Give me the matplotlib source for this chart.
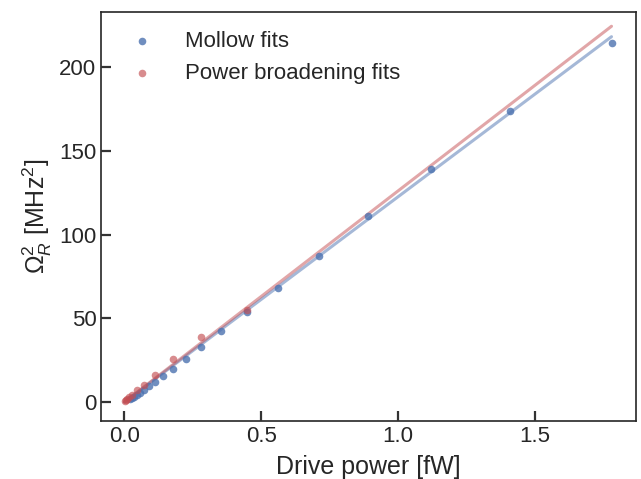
import numpy as np
import matplotlib.pyplot as plt
import seaborn as sns

sns.set_style('ticks')
plt.rcParams['font.family'] = ['Liberation Sans', 'DejaVu Sans']
plt.rcParams['mathtext.fontset'] = 'custom'
plt.rcParams['mathtext.rm'] = 'Liberation Sans'
plt.rcParams['mathtext.it'] = 'Liberation Sans:italic'

# Mollow fits
mollow_power = [1.78, 1.41, 1.12, 0.89, 0.71, 0.56, 0.45, 0.355, 0.28, 0.224,
                0.178, 0.141, 0.112, 0.089, 0.071, 0.056, 0.045, 0.035, 0.028, 0.022]
mollow_rabi2 = [214, 173.5, 139, 111, 87, 68, 54, 42.5, 33, 26,
                20, 15.5, 12, 9.5, 7.5, 5.5, 4.2, 3.2, 2.5, 1.8]

# Power broadening fits
pb_power = [0.45, 0.28, 0.178, 0.112, 0.071, 0.045, 0.028, 0.018, 0.011, 0.007, 0.004]
pb_rabi2 = [55, 39, 25.5, 16, 10, 7, 4.5, 3, 1.8, 1.0, 0.5]

# linear fit slopes [MHz^2 / fW]
mollow_slope = 122.5
pb_slope = 126.0

blue = '#4C72B0'
red = '#C44E52'

fig, ax = plt.subplots(figsize=(6.41, 4.79), dpi=100)
ax.set_axisbelow(False)

xfit = np.array([0, max(mollow_power)])
ax.plot(xfit, mollow_slope * xfit, color=blue, alpha=0.5, lw=2.2)
ax.plot(xfit, pb_slope * xfit, color=red, alpha=0.5, lw=2.2)

ax.scatter(mollow_power, mollow_rabi2, color=blue, s=30, alpha=0.8, lw=0, label='Mollow fits', zorder=3)
ax.scatter(pb_power, pb_rabi2, color=red, s=30, alpha=0.65, lw=0, label='Power broadening fits', zorder=3)

ax.set_xlim(-0.084, 1.869)
ax.set_ylim(-11.3, 232.8)
ax.set_xticks([0.0, 0.5, 1.0, 1.5])
ax.set_yticks([0, 50, 100, 150, 200])
ax.tick_params(direction='in', length=7, width=1.6, color='#333333',
               labelsize=16, labelcolor='#262626')
for s in ax.spines.values():
    s.set_color('#262626')
    s.set_linewidth(1.2)
ax.set_xlabel('Drive power [fW]', fontsize=18, labelpad=6)
ax.set_ylabel(r'$\Omega_R^2$ [MHz$^2$]', fontsize=18)
ax.legend(loc='upper left', frameon=False, fontsize=16, handletextpad=0.9, borderaxespad=0.45,
          labelspacing=0.5)

plt.subplots_adjust(left=0.158, right=0.992, top=0.975, bottom=0.121)
plt.savefig('out.png', dpi=100)
